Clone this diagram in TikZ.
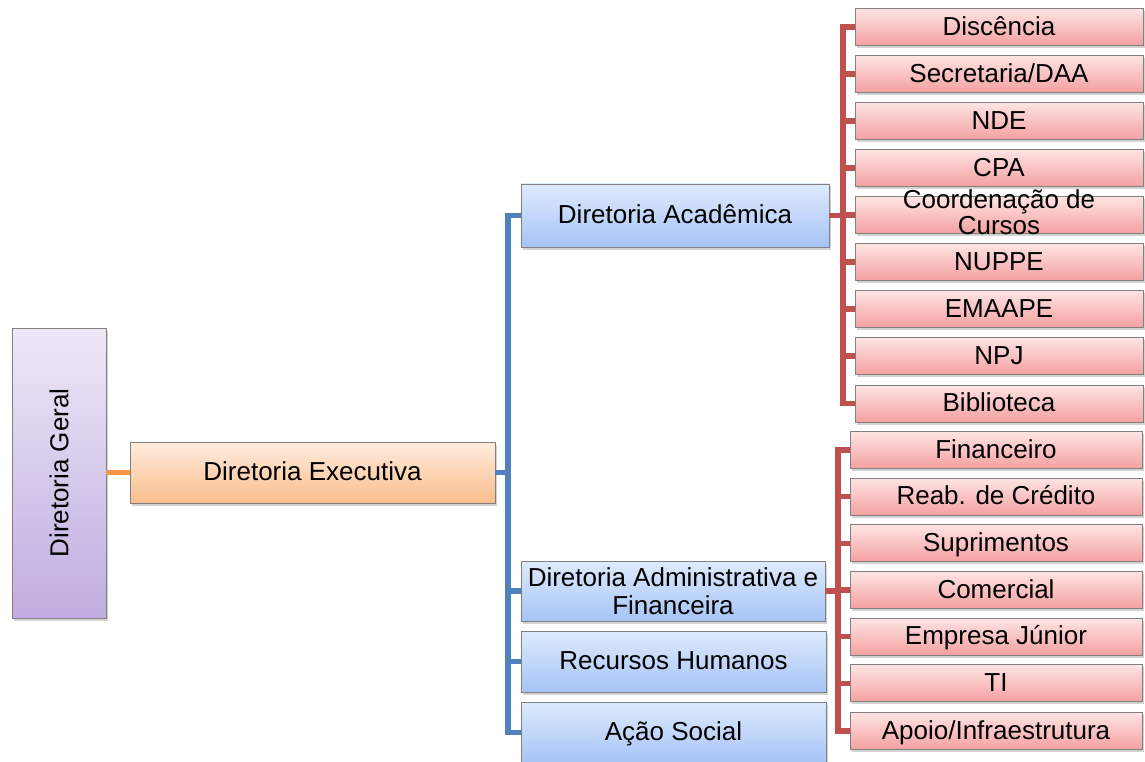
\documentclass[tikz,border=0pt]{standalone}
\usepackage{fontspec}
\setmainfont{Liberation Sans}
\usetikzlibrary{shadows}
\definecolor{pTop}{RGB}{238,232,247}
\definecolor{pBot}{RGB}{192,172,224}
\definecolor{oTop}{RGB}{255,236,222}
\definecolor{oBot}{RGB}{250,190,140}
\definecolor{bTop}{RGB}{222,234,253}
\definecolor{bBot}{RGB}{166,196,246}
\definecolor{rTop}{RGB}{255,228,228}
\definecolor{rBot}{RGB}{244,160,160}
\definecolor{bLine}{RGB}{79,129,189}
\definecolor{rLine}{RGB}{192,80,77}
\definecolor{oLine}{RGB}{247,150,70}
\begin{document}
\begin{tikzpicture}[x=1pt,y=-1pt,
  box/.style={rectangle, draw=black!50, line width=0.9pt, inner sep=0pt,
    font=\fontsize{26}{27.5}\selectfont, align=center,
    text height=21.5pt, text depth=5pt,
    drop shadow={shadow xshift=1.5pt, shadow yshift=-2.5pt, opacity=0.35}},
  purplebox/.style={box, top color=pTop, bottom color=pBot},
  orangebox/.style={box, top color=oTop, bottom color=oBot},
  bluebox/.style={box, top color=bTop, bottom color=bBot, minimum width=305pt, minimum height=61pt},
  redbox/.style={box, top color=rTop, bottom color=rBot, minimum height=37pt},
  acadbox/.style={redbox, minimum width=288pt},
  finbox/.style={redbox, minimum width=292pt},
  lbl/.style={font=\fontsize{26}{26}\selectfont, align=center, inner sep=0pt},
  bline/.style={draw=bLine, line width=5.5pt},
  rline/.style={draw=rLine, line width=5.5pt},
  oline/.style={draw=oLine, line width=5pt}
]
\useasboundingbox (0,0) rectangle (1145,762);

% main nodes
\node[purplebox, minimum width=94pt, minimum height=290pt,
  label={[lbl, rotate=90]center:Diretoria Geral}] (geral) at (59,473) {};
\node[orangebox, minimum width=365pt, minimum height=61pt] (exec) at (312.5,472.5) {Diretoria Executiva};

\node[bluebox, minimum width=308pt, minimum height=63pt] (acad) at (675,215.5) {Diretoria Acadêmica};
\node[bluebox, minimum width=304pt, minimum height=60pt, text height=, text depth=] (daf) at (673,591) {Diretoria Administrativa e\\Financeira};
\node[bluebox] (rh) at (673.5,661.5) {Recursos Humanos};
\node[bluebox] (acao) at (673.5,732.5) {Ação Social};

% academic children
\node[acadbox] (disc) at (999,27) {Discência};
\node[acadbox] (secr) at (999,74) {Secretaria/DAA};
\node[acadbox] (nde) at (999,121) {NDE};
\node[acadbox] (cpa) at (999,168) {CPA};
\node[acadbox, label={[lbl, yshift=3pt]center:Coordenação de\\Cursos}] (coord) at (999,215) {};
\node[acadbox] (nuppe) at (999,262) {NUPPE};
\node[acadbox] (emaape) at (999,309) {EMAAPE};
\node[acadbox] (npj) at (999,356) {NPJ};
\node[acadbox] (bib) at (999,403.5) {Biblioteca};

% financial children
\node[finbox] (fin) at (996,450) {Financeiro};
\node[finbox] (reab) at (996,496.7) {Reab. de Crédito};
\node[finbox] (supr) at (996,543.3) {Suprimentos};
\node[finbox] (com) at (996,590) {Comercial};
\node[finbox] (emp) at (996,636.7) {Empresa Júnior};
\node[finbox] (ti) at (996,683.3) {TI};
\node[finbox] (apoio) at (996,731) {Apoio/Infraestrutura};

% bus coordinates
\coordinate (bbus) at (508,472.5);
\coordinate (abus) at (843,215.5);
\coordinate (fbus) at (838,591);

% connectors
\draw[oline] (geral.east |- exec.west) -- (exec.west);

\draw[bline] (exec.east) -- (bbus);
\draw[bline] (acad.west) -| (bbus) |- (acao.west);
\draw[bline] (bbus |- daf.west) -- (daf.west);
\draw[bline] (bbus |- rh.west) -- (rh.west);

\draw[rline] (acad.east) -- (abus);
\draw[rline] (disc.west) -| (abus) |- (bib.west);
\foreach \n in {secr,nde,cpa,coord,nuppe,emaape,npj}
  \draw[rline] (abus |- \n.west) -- (\n.west);

\draw[rline] (daf.east) -- (fbus);
\draw[rline] (fin.west) -| (fbus) |- (apoio.west);
\foreach \n in {reab,supr,com,emp,ti}
  \draw[rline] (fbus |- \n.west) -- (\n.west);
\end{tikzpicture}
\end{document}
